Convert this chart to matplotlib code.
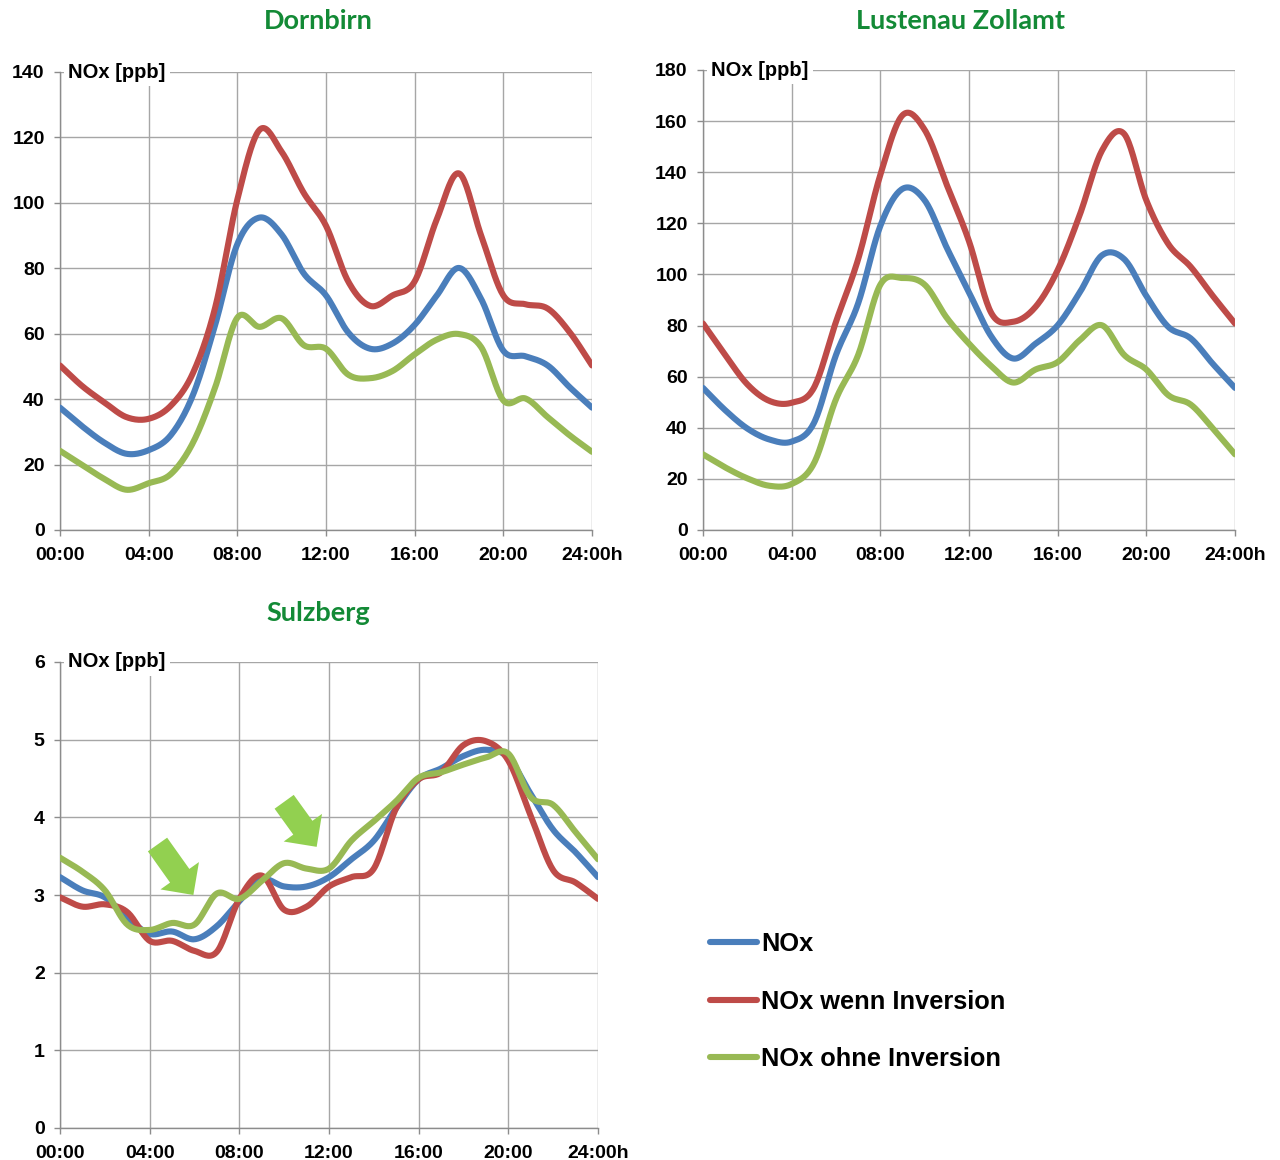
import matplotlib
matplotlib.use('Agg')
import matplotlib.pyplot as plt
from matplotlib.patches import FancyArrowPatch
import numpy as np

# Stunden 0..24
hours = list(range(25))
xticks = [0, 4, 8, 12, 16, 20, 24]
xlabels = ['00:00', '04:00', '08:00', '12:00', '16:00', '20:00', '24:00h']

# Dornbirn
dorn_nox = [37.4, 31.7, 26.7, 23.3, 24.4, 29.0, 41.3, 62.7, 87.4, 95.5, 90.3, 78.4, 71.7,
            60.4, 55.4, 57.0, 62.7, 71.7, 80.1, 70.6, 54.8, 53.1, 50.3, 43.6, 37.4]
dorn_inv = [50.3, 44.0, 39.0, 34.5, 34.0, 38.0, 48.0, 68.0, 101.0, 122.3, 115.6, 103.0, 93.0,
            76.0, 68.5, 71.7, 76.0, 95.0, 109.0, 90.0, 71.7, 69.0, 67.7, 60.4, 50.3]
dorn_ohne = [24.2, 19.9, 15.6, 12.3, 14.3, 17.1, 26.7, 43.6, 64.9, 62.1, 64.7, 56.5, 55.4,
             47.5, 46.4, 48.6, 53.7, 58.2, 59.9, 55.9, 39.6, 40.2, 34.5, 28.9, 23.9]

# Lustenau Zollamt
lust_nox = [55.6, 46.9, 39.7, 35.4, 34.6, 41.8, 68.5, 88.7, 119.0, 133.5, 129.0, 110.4, 93.0,
            75.8, 67.1, 72.9, 80.1, 93.0, 107.5, 106.0, 91.6, 79.4, 75.0, 65.0, 55.6]
lust_inv = [80.8, 68.5, 57.0, 50.5, 49.8, 55.6, 81.5, 106.0, 139.0, 162.3, 156.6, 135.0, 113.0,
            85.0, 81.5, 87.3, 101.7, 123.4, 148.5, 155.0, 129.0, 111.8, 103.0, 91.6, 80.8]
lust_ohne = [29.6, 24.5, 20.2, 17.3, 18.0, 26.0, 51.2, 68.5, 96.0, 98.6, 96.0, 83.0, 72.9,
             64.2, 57.7, 62.8, 65.7, 74.3, 80.1, 68.5, 62.8, 52.7, 49.1, 39.7, 29.6]

# Sulzberg
sulz_nox = [3.23, 3.06, 2.97, 2.71, 2.50, 2.53, 2.43, 2.60, 2.92, 3.20, 3.11, 3.11, 3.23,
            3.46, 3.70, 4.12, 4.49, 4.63, 4.79, 4.87, 4.77, 4.30, 3.84, 3.55, 3.23]
sulz_inv = [2.97, 2.85, 2.88, 2.78, 2.41, 2.41, 2.28, 2.27, 2.95, 3.25, 2.81, 2.85, 3.11,
            3.23, 3.34, 4.12, 4.49, 4.58, 4.93, 4.98, 4.73, 4.02, 3.32, 3.16, 2.95]
sulz_ohne = [3.48, 3.30, 3.06, 2.62, 2.55, 2.64, 2.62, 3.02, 2.95, 3.18, 3.41, 3.34, 3.34,
             3.70, 3.95, 4.21, 4.51, 4.58, 4.68, 4.77, 4.82, 4.26, 4.16, 3.81, 3.46]

labels = ['NOx', 'NOx wenn Inversion', 'NOx ohne Inversion']
colors = ['#4A7EBB', '#BE4B48', '#98B954']
title_color = '#138A36'
grid_color = '#A6A6A6'


def smooth(x, y, n=20):
    # Catmull-Rom Kurve wie die geglaetteten Linien in Excel
    x = np.asarray(x, float)
    y = np.asarray(y, float)
    yp = np.concatenate([[2 * y[0] - y[1]], y, [2 * y[-1] - y[-2]]])
    xs, ys = [], []
    t = np.linspace(0, 1, n, endpoint=False)
    for i in range(len(y) - 1):
        p0, p1, p2, p3 = yp[i], yp[i + 1], yp[i + 2], yp[i + 3]
        ys.append(0.5 * (2 * p1 + (-p0 + p2) * t + (2 * p0 - 5 * p1 + 4 * p2 - p3) * t ** 2
                         + (-p0 + 3 * p1 - 3 * p2 + p3) * t ** 3))
        xs.append(x[i] + (x[i + 1] - x[i]) * t)
    xs.append([x[-1]])
    ys.append([y[-1]])
    return np.concatenate(xs), np.concatenate(ys)


tick_font = dict(family='Liberation Sans', weight='bold', size=14)


def draw_panel(ax, series, ymax, ystep, title, title_xy):
    lines = []
    for s, c, lab in zip(series, colors, labels):
        xs, ys = smooth(hours, s)
        ln, = ax.plot(xs, ys, color=c, lw=4.4, label=lab, solid_capstyle='round', zorder=3)
        lines.append(ln)
    ax.set_xlim(0, 24)
    ax.set_ylim(0, ymax)
    ax.set_xticks(xticks)
    ax.set_xticklabels(xlabels, fontdict=tick_font)
    yt = np.arange(0, ymax + ystep / 2, ystep)
    ax.set_yticks(yt)
    ax.set_yticklabels([f'{v:g}' for v in yt], fontdict=tick_font)
    ax.grid(True, color=grid_color, lw=1.0)
    ax.set_axisbelow(True)
    for side in ['top', 'right']:
        ax.spines[side].set_visible(False)
    for side in ['left', 'bottom']:
        ax.spines[side].set_color('#8C8C8C')
        ax.spines[side].set_linewidth(1.0)
    ax.tick_params(axis='both', direction='out', length=4, width=1, color='#8C8C8C')
    ax.tick_params(axis='y', pad=7)
    ax.tick_params(axis='x', pad=8)
    ax.text(0.015, 1.0, 'NOx [ppb]', transform=ax.transAxes, ha='left', va='center',
            fontsize=14.5, fontweight='bold', family='Liberation Sans', zorder=5,
            bbox=dict(facecolor='white', edgecolor='none', pad=3), clip_on=False)
    fig.text(title_xy[0] / 1280, 1 - title_xy[1] / 1160, title, ha='center', va='center',
             fontsize=19.5, fontweight='bold', family='Lato', color=title_color)
    return lines


fig = plt.figure(figsize=(12.8, 11.6), dpi=100)

ax1 = fig.add_axes([60 / 1280, 1 - 530 / 1160, 532 / 1280, 458 / 1160])
ax2 = fig.add_axes([703 / 1280, 1 - 530 / 1160, 532 / 1280, 460 / 1160])
ax3 = fig.add_axes([60 / 1280, 1 - 1128 / 1160, 538 / 1280, 466 / 1160])

handles = draw_panel(ax1, [dorn_nox, dorn_inv, dorn_ohne], 140, 20, 'Dornbirn', (318, 21))
draw_panel(ax2, [lust_nox, lust_inv, lust_ohne], 180, 20, 'Lustenau Zollamt', (960, 21))
draw_panel(ax3, [sulz_nox, sulz_inv, sulz_ohne], 6, 1, 'Sulzberg', (318, 613))

# Pfeile bei Sulzberg
for tail, head in [((4.35, 3.65), (5.95, 3.0)), ((10.0, 4.2), (11.45, 3.62))]:
    arr = FancyArrowPatch(tail, head, arrowstyle='simple,head_length=1.0,head_width=2.0,tail_width=1.0',
                          mutation_scale=17, color='#92D050', lw=0, shrinkA=0, shrinkB=0, zorder=4)
    ax3.add_patch(arr)

fig.legend(handles=handles, loc='upper left', bbox_to_anchor=(710 / 1280, 1 - 932 / 1160),
           frameon=False, borderpad=0, borderaxespad=0, handlelength=1.85, handletextpad=0.15,
           labelspacing=1.32, prop=dict(family='Liberation Sans', weight='bold', size=18.3))

fig.savefig('out.png', dpi=100)
